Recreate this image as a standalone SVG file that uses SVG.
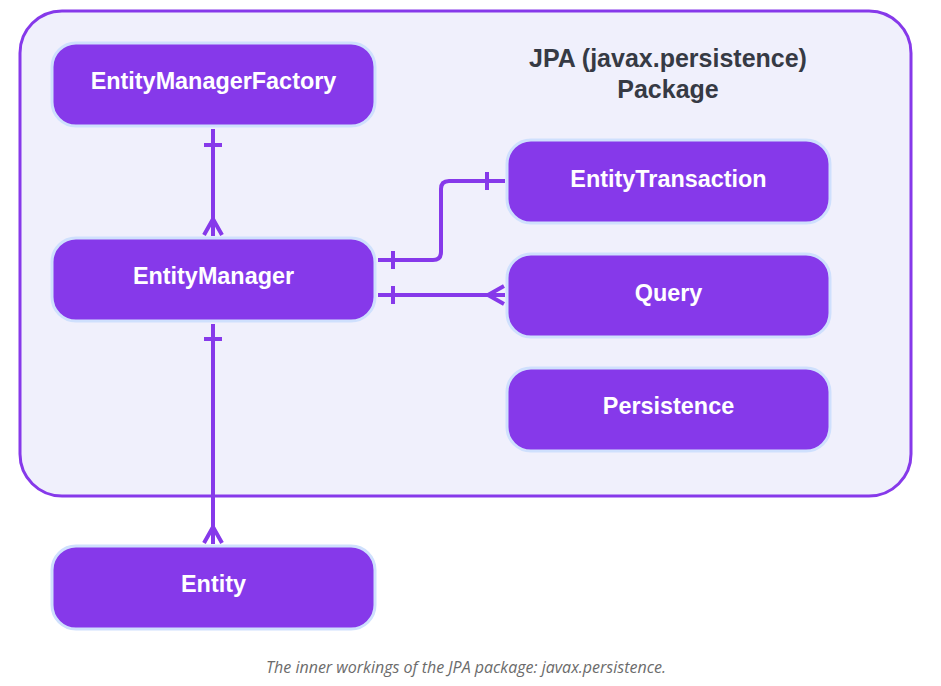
<svg xmlns="http://www.w3.org/2000/svg" width="941" height="686" viewBox="0 0 941 686">
<style>
.node rect{fill:#8639ea;stroke:#cfe0fd;stroke-width:3}
.node text{font-family:"Liberation Sans",Arial,sans-serif;font-weight:bold;font-size:23.4px;fill:#fff;text-anchor:middle;dominant-baseline:central}
.c{fill:none;stroke:#8639ea;stroke-width:4;stroke-linejoin:round}
.title{font-family:"Liberation Sans",Arial,sans-serif;font-weight:bold;font-size:25px;fill:#363a44;text-anchor:middle}
</style>
<rect x="0" y="0" width="941" height="686" fill="#fff"/>
<g id="package">
<rect x="20" y="11" width="891" height="485" rx="42" fill="#f0f0fc" stroke="#8639ea" stroke-width="3"/>
<text class="title" x="668" y="67">JPA (javax.persistence)</text>
<text class="title" x="668" y="98">Package</text>
</g>
<g id="connectors">
<path class="c" d="M213 129V236"/>
<path class="c" d="M204 145H222"/>
<path class="c" d="M213 219L204 235M213 219L222 235M213 219V236"/>
<path class="c" d="M378 260H433Q441 260 441 252V189Q441 181 449 181H505"/>
<path class="c" d="M393 251V269M487 172V190"/>
<path class="c" d="M378 295H505"/>
<path class="c" d="M393 286V304"/>
<path class="c" d="M488 295L504 286M488 295L504 304"/>
<path class="c" d="M213 324V544"/>
<path class="c" d="M204 339H222"/>
<path class="c" d="M213 527L204 543M213 527L222 543"/>
</g>
<g id="EntityManagerFactory" class="node"><rect x="52" y="43" width="323" height="83" rx="24"/><text x="213.5" y="81">EntityManagerFactory</text></g>
<g id="EntityManager" class="node"><rect x="52" y="238" width="323" height="83" rx="24"/><text x="213.5" y="276">EntityManager</text></g>
<g id="Entity" class="node"><rect x="52" y="546" width="323" height="83" rx="24"/><text x="213.5" y="584">Entity</text></g>
<g id="EntityTransaction" class="node"><rect x="507" y="140" width="323" height="83" rx="24"/><text x="668.5" y="179">EntityTransaction</text></g>
<g id="Query" class="node"><rect x="507" y="254" width="323" height="83" rx="24"/><text x="668.5" y="293">Query</text></g>
<g id="Persistence" class="node"><rect x="507" y="368" width="323" height="83" rx="24"/><text x="668.5" y="406">Persistence</text></g>
<text x="466" y="673" font-family="'Open Sans','Noto Sans',sans-serif" font-style="italic" font-size="16" fill="#6b6b6b" text-anchor="middle">The inner workings of the JPA package: javax.persistence.</text>
</svg>
